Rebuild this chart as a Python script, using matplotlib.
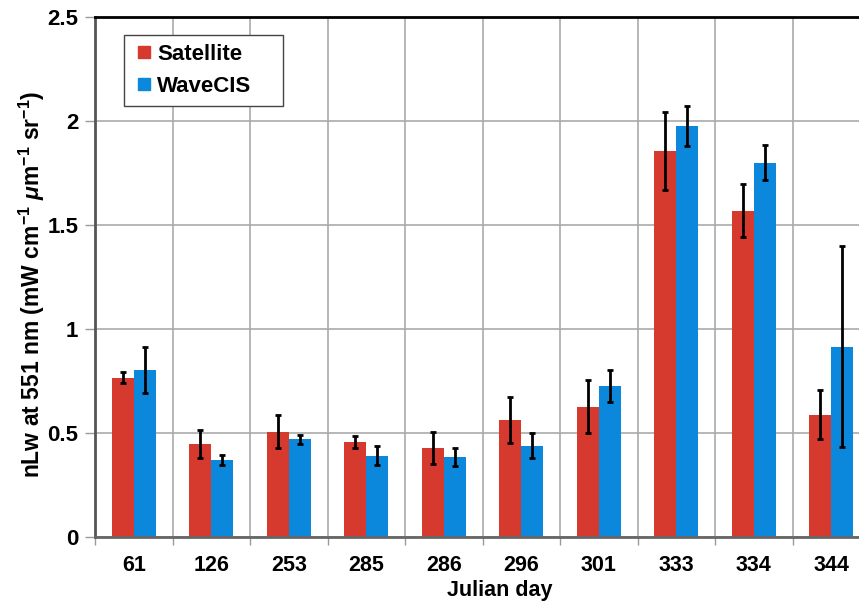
import numpy as np
import matplotlib.pyplot as plt
from matplotlib.lines import Line2D

plt.rcParams['font.family'] = ['Liberation Sans', 'DejaVu Sans']
plt.rcParams['font.weight'] = 'bold'
plt.rcParams['mathtext.fontset'] = 'custom'
plt.rcParams['mathtext.rm'] = 'Liberation Sans:bold'
plt.rcParams['mathtext.it'] = 'Liberation Sans:bold:italic'
plt.rcParams['mathtext.bf'] = 'Liberation Sans:bold'

# Dữ liệu
days = ["61", "126", "253", "285", "286", "296", "301", "333", "334", "344"]
satellite = [0.766, 0.447, 0.505, 0.457, 0.428, 0.561, 0.627, 1.856, 1.569, 0.585]
sat_lo = [0.739, 0.381, 0.426, 0.429, 0.349, 0.450, 0.502, 1.670, 1.442, 0.470]
sat_hi = [0.795, 0.516, 0.585, 0.487, 0.505, 0.675, 0.753, 2.042, 1.696, 0.705]
wavecis = [0.801, 0.369, 0.470, 0.391, 0.385, 0.437, 0.726, 1.974, 1.800, 0.915]
wav_lo = [0.691, 0.345, 0.447, 0.346, 0.343, 0.380, 0.651, 1.880, 1.716, 0.431]
wav_hi = [0.915, 0.396, 0.492, 0.437, 0.428, 0.498, 0.801, 2.072, 1.883, 1.399]

red = "#D6392E"
blue = "#0B87DB"

x = np.arange(len(days))
w = 0.284

fig = plt.figure(figsize=(8.59, 6.03), dpi=100)
ax = fig.add_axes([95/859, 1 - 537/603, 775/859, 520/603])

sat = np.array(satellite)
wav = np.array(wavecis)
sat_err = [sat - np.array(sat_lo), np.array(sat_hi) - sat]
wav_err = [wav - np.array(wav_lo), np.array(wav_hi) - wav]

ekw = dict(ecolor="black", elinewidth=2, capthick=2, capsize=2.5)
ax.bar(x - w/2, sat, w, color=red, yerr=sat_err, error_kw=ekw, zorder=2)
ax.bar(x + w/2, wav, w, color=blue, yerr=wav_err, error_kw=ekw, zorder=2)

ax.set_xlim(-0.5, len(days) - 0.5)
ax.set_ylim(0, 2.5)
ax.set_yticks([0, 0.5, 1, 1.5, 2, 2.5])
ax.set_yticklabels(["0", "0.5", "1", "1.5", "2", "2.5"])
ax.set_xticks(x)
ax.set_xticklabels(days)
ax.set_xticks(np.arange(len(days) + 1) - 0.5, minor=True)

ax.tick_params(axis="x", which="major", length=0, pad=13, labelsize=15.5)
ax.tick_params(axis="x", which="minor", length=6, width=1, color="#999999", direction="out")
ax.tick_params(axis="y", length=7, width=1, color="#999999", direction="out", pad=5, labelsize=16)

ax.grid(True, axis="y", color="#AAAAAA", linewidth=1.2)
ax.grid(True, axis="x", which="minor", color="#AAAAAA", linewidth=1.2)
ax.set_axisbelow(True)

ax.spines["top"].set_color("black")
ax.spines["top"].set_linewidth(2)
ax.spines["left"].set_color("#555555")
ax.spines["left"].set_linewidth(2)
ax.spines["bottom"].set_color("#666666")
ax.spines["bottom"].set_linewidth(2)
ax.spines["right"].set_visible(False)

ax.set_xlabel("Julian day", fontsize=15.5, fontweight="bold")
ax.xaxis.set_label_coords((500 - 95) / 775, -0.082)
ax.set_ylabel(r"nLw at 551 nm (mW cm$^{-1}$ $\mathit{\mu}$m$^{-1}$ sr$^{-1}$)",
              fontsize=16.5, fontweight="bold")
ax.yaxis.set_label_coords(-0.062, 0.485)

handles = [Line2D([], [], marker="s", color=red, linestyle="none", markersize=8),
           Line2D([], [], marker="s", color=blue, linestyle="none", markersize=8)]
leg = ax.legend(handles, ["Satellite", "WaveCIS"], loc="upper left",
                bbox_to_anchor=((124 - 95) / 775, (537 - 35) / 520 - 70 / 520,
                                159 / 775, 70 / 520),
                mode="expand", borderaxespad=0, fontsize=16, handlelength=1.0,
                handletextpad=0.1, fancybox=False, framealpha=1, edgecolor="#444444",
                borderpad=0.4, labelspacing=0.5)
leg.get_frame().set_linewidth(1)

fig.savefig("out.png", dpi=100)
